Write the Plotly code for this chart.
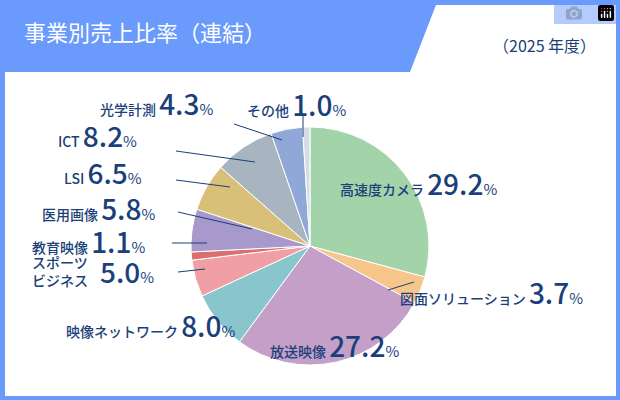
import plotly.graph_objects as go

names = ["高速度カメラ", "図面ソリューション", "放送映像", "映像ネットワーク", "スポーツビジネス",
         "教育映像", "医用画像", "LSI", "ICT", "光学計測", "その他"]
values = [29.2, 3.7, 27.2, 8.0, 5.0, 1.1, 5.8, 6.5, 8.2, 4.3, 1.0]
colors = ["#a3d3a8", "#f7c68a", "#c4a0c8", "#88c5cc", "#f0a0a5", "#d9706f",
          "#a899cc", "#d8c078", "#a8b4c0", "#8fa8d8", "#d6dde6"]
label_names = ["高速度カメラ", "図面ソリューション", "放送映像", "映像ネットワーク", "スポーツ<br>ビジネス",
               "教育映像", "医用画像", "LSI", "ICT", "光学計測", "その他"]
# label anchor (left x, center y) in pixels, leader lines
label_pos = [(338, 183), (398, 292), (268, 345), (64, 325), (30, 271),
             (30, 241), (40, 208), (62, 172), (56, 135), (98, 103), (245, 104)]
lines = [None, (388, 290, 414, 282), None, None, (178, 272, 205, 269),
         (172, 243, 207, 243), (178, 212, 252, 229), (176, 180, 230, 187),
         (176, 151, 255, 162), (234, 124, 282, 140), (303, 115, 303, 137)]

W, H = 620, 400
NAVY = "#1a3f7a"
FONT = "Noto Sans CJK JP"

fig = go.Figure()
cx, cy, r = 310, 246, 119
fig.add_trace(go.Pie(values=values, labels=names, marker=dict(colors=colors, line=dict(color="white", width=1)),
                     sort=False, direction="clockwise", rotation=0, textinfo="none", hoverinfo="label+percent",
                     domain=dict(x=[(cx - r) / W, (cx + r) / W], y=[1 - (cy + r) / H, 1 - (cy - r) / H]),
                     showlegend=False))

shapes = [dict(type="path", xref="x", yref="y", layer="below",
               path="M 5,72 L 410,72 L 436,5 L 616,5 L 616,396 L 5,396 Z",
               fillcolor="white", line=dict(width=0))]
for ln in lines:
    if ln:
        x0, y0, x1, y1 = ln
        shapes.append(dict(type="line", xref="x", yref="y", x0=x0, y0=y0, x1=x1, y1=y1,
                           line=dict(color=NAVY, width=1)))

annotations = [
    dict(x=22, y=31, xref="x", yref="y", text="事業別売上比率（連結）", showarrow=False,
         xanchor="left", yanchor="middle", font=dict(family=FONT, size=22, color="white")),
    dict(x=598, y=45, xref="x", yref="y", text="（2025 年度）", showarrow=False,
         xanchor="right", yanchor="middle", font=dict(family=FONT, size=16, color=NAVY)),
]
NUM = "<span style='font-size:28px;font-weight:500'>{:.1f}</span><span style='font-size:15px'>%</span>"
for nm, v, (x, y) in zip(label_names, values, label_pos):
    if "<br>" in nm:
        annotations.append(dict(x=x, y=y, xref="x", yref="y", text=nm, showarrow=False,
                                xanchor="left", yanchor="middle", align="left",
                                font=dict(family=FONT, size=14, color=NAVY, weight=500)))
        annotations.append(dict(x=x + 68, y=y, xref="x", yref="y", text=NUM.format(v), showarrow=False,
                                xanchor="left", yanchor="middle", align="left",
                                font=dict(family=FONT, size=14, color=NAVY)))
        continue
    txt = f"<span style='font-weight:500'>{nm}</span> " + NUM.format(v)
    annotations.append(dict(x=x, y=y, xref="x", yref="y", text=txt, showarrow=False,
                            xanchor="left", yanchor="middle", align="left",
                            font=dict(family=FONT, size=14, color=NAVY)))

fig.update_layout(width=W, height=H, margin=dict(l=0, r=0, t=0, b=0),
                  paper_bgcolor="#6a9afc", plot_bgcolor="rgba(0,0,0,0)",
                  xaxis=dict(range=[0, W], visible=False, fixedrange=True),
                  yaxis=dict(range=[H, 0], visible=False, fixedrange=True),
                  shapes=shapes, annotations=annotations)
fig.write_html("out.html", post_script="document.body.style.margin='0';document.body.style.padding='0';")
